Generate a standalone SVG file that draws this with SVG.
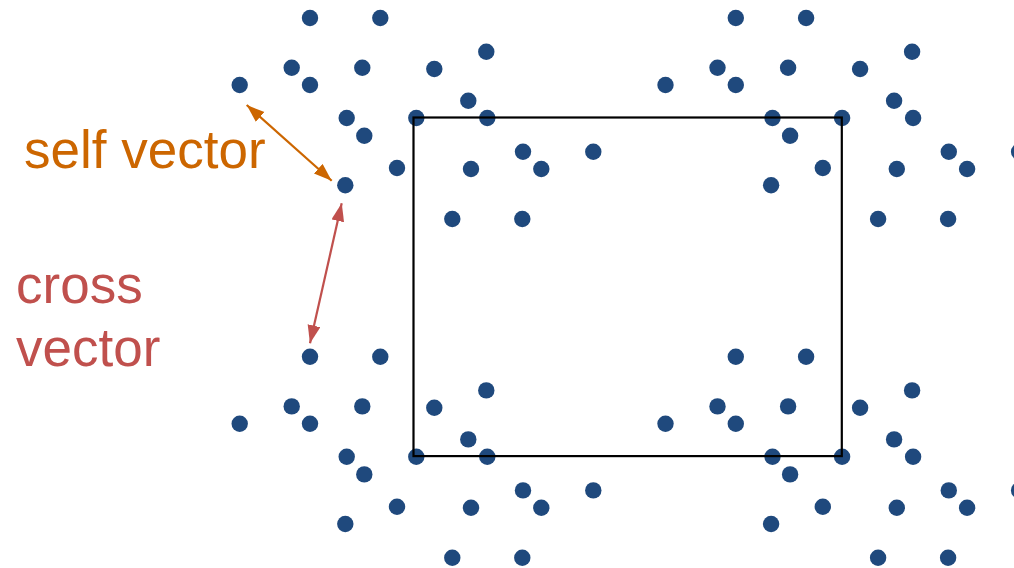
<svg xmlns="http://www.w3.org/2000/svg" xmlns:xlink="http://www.w3.org/1999/xlink" width="1014" height="568" viewBox="0 0 1014 568">
<style>
.dot{fill:#1f497d}
.frame{fill:none;stroke:#000;stroke-width:2.2}
.self{stroke:#cc6600;stroke-width:2.2;fill:none}
.cross{stroke:#c0504d;stroke-width:2.2;fill:none}
.lbl{font-family:"Liberation Sans",Arial,sans-serif;font-size:53px}
</style>
<defs>
<marker id="hs" markerUnits="userSpaceOnUse" markerWidth="20" markerHeight="14" refX="18" refY="6.5" orient="auto-start-reverse">
<path d="M0,0 L18,6.5 L0,13 z" fill="#cc6600"/>
</marker>
<marker id="hc" markerUnits="userSpaceOnUse" markerWidth="20" markerHeight="14" refX="18" refY="6.5" orient="auto-start-reverse">
<path d="M0,0 L18,6.5 L0,13 z" fill="#c0504d"/>
</marker>
<g id="tile">
<circle class="dot" cx="310" cy="18" r="8.2"/>
<circle class="dot" cx="380.3" cy="18" r="8.2"/>
<circle class="dot" cx="486.3" cy="51.7" r="8.2"/>
<circle class="dot" cx="291.7" cy="67.7" r="8.2"/>
<circle class="dot" cx="362.3" cy="67.7" r="8.2"/>
<circle class="dot" cx="434.3" cy="69" r="8.2"/>
<circle class="dot" cx="239.7" cy="85" r="8.2"/>
<circle class="dot" cx="310" cy="85" r="8.2"/>
<circle class="dot" cx="468.3" cy="100.7" r="8.2"/>
<circle class="dot" cx="346.7" cy="118" r="8.2"/>
<circle class="dot" cx="416.3" cy="118" r="8.2"/>
<circle class="dot" cx="487.3" cy="118" r="8.2"/>
<circle class="dot" cx="364.3" cy="135.7" r="8.2"/>
<circle class="dot" cx="523" cy="151.7" r="8.2"/>
<circle class="dot" cx="593.3" cy="151.7" r="8.2"/>
<circle class="dot" cx="397" cy="168" r="8.2"/>
<circle class="dot" cx="471" cy="169" r="8.2"/>
<circle class="dot" cx="541.3" cy="169" r="8.2"/>
<circle class="dot" cx="345.3" cy="185.3" r="8.2"/>
<circle class="dot" cx="452.3" cy="219" r="8.2"/>
<circle class="dot" cx="522.3" cy="219" r="8.2"/>
</g>
</defs>
<g id="points">
<use xlink:href="#tile" href="#tile"/>
<use xlink:href="#tile" href="#tile" transform="translate(425.8,0)"/>
<use xlink:href="#tile" href="#tile" transform="translate(0,338.7)"/>
<use xlink:href="#tile" href="#tile" transform="translate(425.8,338.7)"/>
</g>
<g id="cell">
<rect class="frame" x="413.5" y="117.5" width="428.3" height="338.6"/>
</g>
<g id="connectors">
<line class="self" x1="246.7" y1="105" x2="331.7" y2="180.7" marker-start="url(#hs)" marker-end="url(#hs)"/>
<line class="cross" x1="341.7" y1="203.3" x2="310" y2="343.3" marker-start="url(#hc)" marker-end="url(#hc)"/>
</g>
<g id="labels">
<text class="lbl" x="24" y="168" fill="#cc6600">self vector</text>
<text class="lbl" x="16" y="303" fill="#c0504d">cross</text>
<text class="lbl" x="16" y="366" fill="#c0504d">vector</text>
</g>
</svg>
